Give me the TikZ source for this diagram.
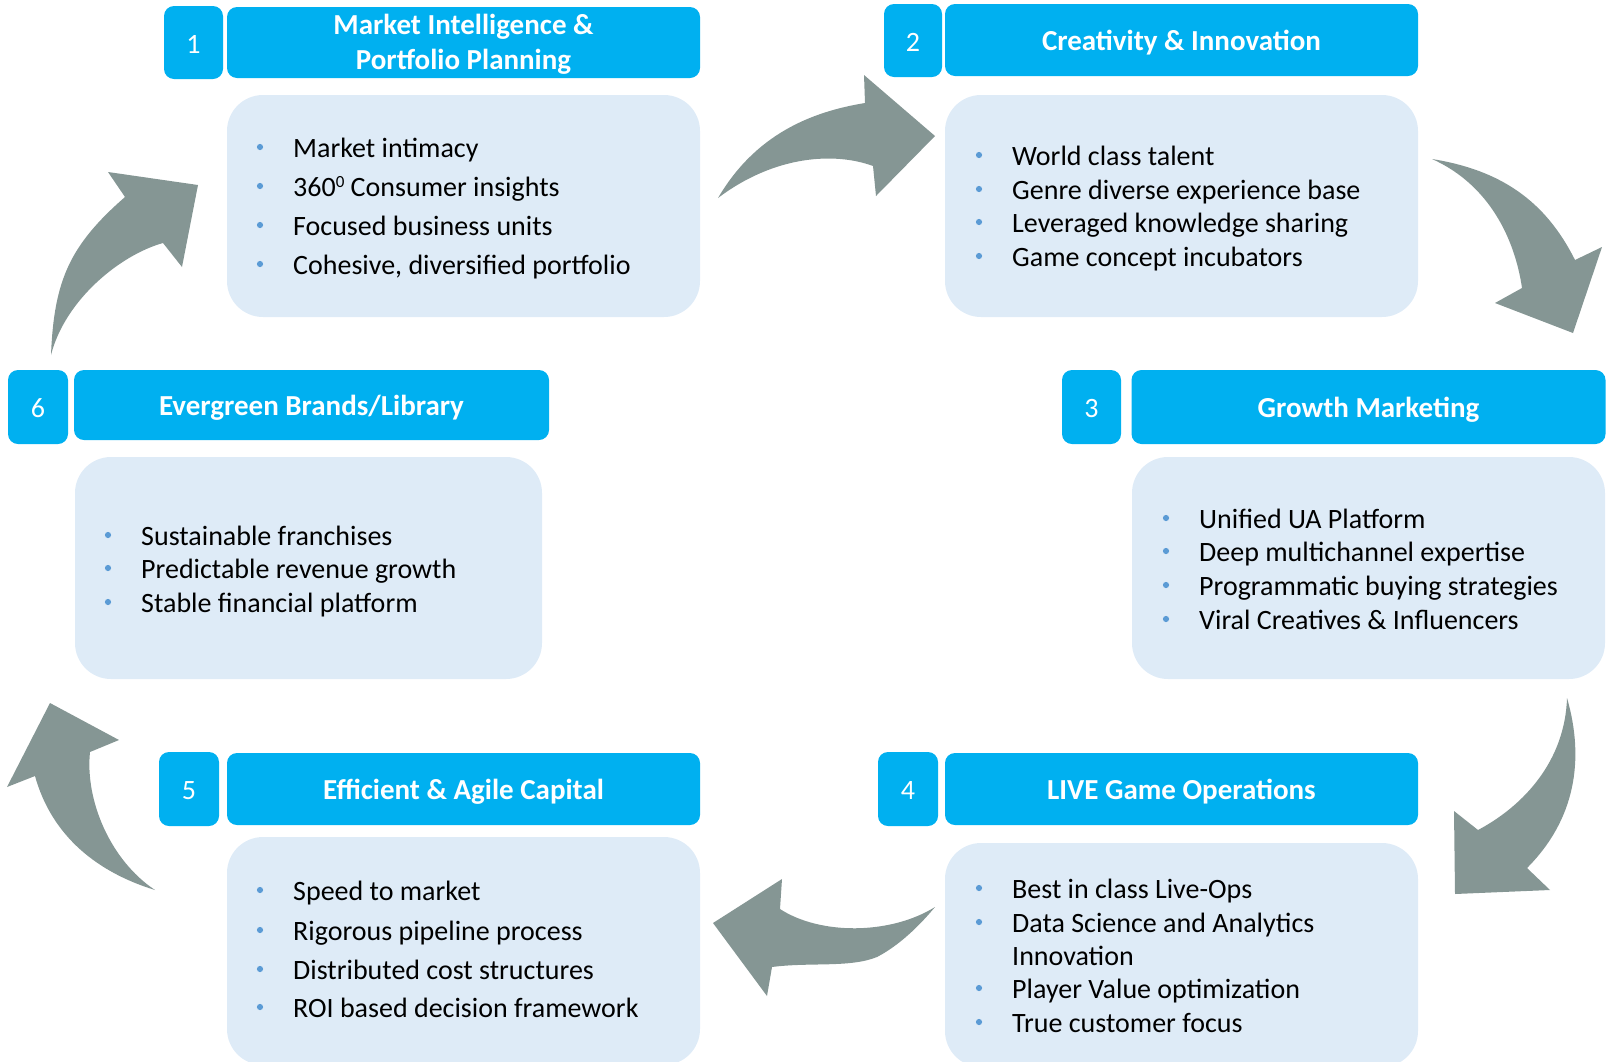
\documentclass[tikz,border=0pt]{standalone}
\usepackage{fontspec}
\setmainfont{Carlito}
\definecolor{headcyan}{RGB}{0,176,240}
\definecolor{panelblue}{RGB}{222,235,247}
\definecolor{dotblue}{RGB}{91,155,213}
\definecolor{flowgrey}{RGB}{133,150,148}

% one bulleted line of a panel: name, baseline-left position, text
\newcommand\bitem[3]{%
  \node[item] (#1) at (#2) {#3};
  \fill[dotblue] ([xshift=-33pt,yshift=10pt]#1.base west) circle (3.1pt);}
% small raised figure
\newcommand\supfig[1]{\raisebox{9pt}{\fontsize{17}{17}\selectfont #1}}

\begin{document}
\begin{tikzpicture}[x=1pt,y=-1pt,
  numbox/.style={fill=headcyan, rounded corners=10pt, inner sep=0pt, text=white,
    font=\fontsize{28}{34}\selectfont, text height=21pt, text depth=0pt},
  titlebox/.style={fill=headcyan, rounded corners=10pt, inner sep=0pt, text=white,
    font=\bfseries\fontsize{29}{35}\selectfont, text height=21pt, text depth=0pt},
  titleline/.style={anchor=base, inner sep=0pt, text=white,
    font=\bfseries\fontsize{29}{35}\selectfont},
  panel/.style={fill=panelblue, rounded corners=36pt, inner sep=0pt},
  item/.style={anchor=base west, inner sep=0pt, font=\fontsize{28}{34}\selectfont},
  flow/.style={fill=flowgrey}]

\useasboundingbox (0,0) rectangle (1611,1061);
\clip (0,0) rectangle (1611,1061);

% ---- stage 1
\node[numbox, minimum width=59pt, minimum height=73pt] (n1) at (193.5,42.5) {1};
\node[titlebox, minimum width=473pt, minimum height=71pt] (t1) at (463.5,42.5) {};
\node[titleline] (t1a) at (463.5,34) {Market Intelligence \&};
\node[titleline] (t1b) at (463.5,69) {Portfolio Planning};
\node[panel, minimum width=473pt, minimum height=222pt] (b1) at (463.5,206) {};
\bitem{b1a}{293,157}{Market intimacy}
\bitem{b1b}{293,196}{360\supfig{0} Consumer insights}
\bitem{b1c}{293,235}{Focused business units}
\bitem{b1d}{293,274}{Cohesive, diversified portfolio}

% ---- stage 2
\node[numbox, minimum width=58pt, minimum height=73pt] (n2) at (913,40.5) {2};
\node[titlebox, minimum width=473pt, minimum height=72pt] (t2) at (1181.5,40) {Creativity \& Innovation};
\node[panel, minimum width=473pt, minimum height=222pt] (b2) at (1181.5,206) {};
\bitem{b2a}{1012,165}{World class talent}
\bitem{b2b}{1012,199}{Genre diverse experience base}
\bitem{b2c}{1012,232}{Leveraged knowledge sharing}
\bitem{b2d}{1012,266}{Game concept incubators}

% ---- stage 3
\node[numbox, minimum width=59pt, minimum height=74pt] (n3) at (1091.5,407) {3};
\node[titlebox, minimum width=474pt, minimum height=74pt] (t3) at (1368.5,407) {Growth Marketing};
\node[panel, minimum width=473pt, minimum height=222pt] (b3) at (1368.5,568) {};
\bitem{b3a}{1199,528}{Unified UA Platform}
\bitem{b3b}{1199,561}{Deep multichannel expertise}
\bitem{b3c}{1199,595}{Programmatic buying strategies}
\bitem{b3d}{1199,629}{Viral Creatives \& Influencers}

% ---- stage 4
\node[numbox, minimum width=60pt, minimum height=74pt] (n4) at (908,789) {4};
\node[titlebox, minimum width=473pt, minimum height=72pt] (t4) at (1181.5,789) {LIVE Game Operations};
\node[panel, minimum width=473pt, minimum height=224pt] (b4) at (1181.5,955) {};
\bitem{b4a}{1012,898}{Best in class Live-Ops}
\bitem{b4b}{1012,932}{Data Science and Analytics}
\node[item] (b4c) at (1012,965) {Innovation};
\bitem{b4d}{1012,998}{Player Value optimization}
\bitem{b4e}{1012,1032}{True customer focus}

% ---- stage 5
\node[numbox, minimum width=60pt, minimum height=74pt] (n5) at (189,789) {5};
\node[titlebox, minimum width=473pt, minimum height=72pt] (t5) at (463.5,789) {Efficient \& Agile Capital};
\node[panel, minimum width=473pt, minimum height=228pt] (b5) at (463.5,951) {};
\bitem{b5a}{293,900}{Speed to market}
\bitem{b5b}{293,940}{Rigorous pipeline process}
\bitem{b5c}{293,979}{Distributed cost structures}
\bitem{b5d}{293,1017}{ROI based decision framework}

% ---- stage 6
\node[numbox, minimum width=60pt, minimum height=74pt] (n6) at (38,407) {6};
\node[titlebox, minimum width=475pt, minimum height=70pt] (t6) at (311.5,405) {Evergreen Brands/Library};
\node[panel, minimum width=467pt, minimum height=222pt] (b6) at (308.5,568) {};
\bitem{b6a}{141,545}{Sustainable franchises}
\bitem{b6b}{141,578}{Predictable revenue growth}
\bitem{b6c}{141,612}{Stable financial platform}

% ---- curved block arrows between the stages
% 6 -> 1
\fill[flow] (51,355) .. controls (54,280) and (70,245) .. (125,197)
  -- (108,172) -- (198,185) -- (182,267) -- (163,243)
  .. controls (120,255) and (65,300) .. (51,355) -- cycle;
% 1 -> 2
\fill[flow] (718,198) .. controls (755,135) and (810,112) .. (865,103)
  -- (864,75) -- (935,136) -- (876,196) -- (873,166)
  .. controls (835,152) and (775,155) .. (718,198) -- cycle;
% 2 -> 3
\fill[flow] (1432,159) .. controls (1500,170) and (1545,200) .. (1575,260)
  -- (1602,247) -- (1573,333) -- (1495,303) -- (1522,288)
  .. controls (1515,240) and (1490,185) .. (1432,159) -- cycle;
% 3 -> 4
\fill[flow] (1567,698) .. controls (1585,760) and (1575,820) .. (1527,868)
  -- (1550,890) -- (1455,894) -- (1454,811) -- (1478,830)
  .. controls (1525,805) and (1565,760) .. (1567,698) -- cycle;
% 4 -> 5
\fill[flow] (935,907) .. controls (890,935) and (820,935) .. (780,909)
  -- (782,879) -- (713,923) -- (767,996) -- (772,967)
  .. controls (810,962) and (850,968) .. (877,957)
  .. controls (900,945) and (920,925) .. (935,907) -- cycle;
% 5 -> 6
\fill[flow] (155,890) .. controls (90,870) and (50,830) .. (35,776)
  -- (7,787) -- (50,703) -- (119,740) -- (90,752)
  .. controls (85,800) and (110,860) .. (155,890) -- cycle;

\end{tikzpicture}
\end{document}
